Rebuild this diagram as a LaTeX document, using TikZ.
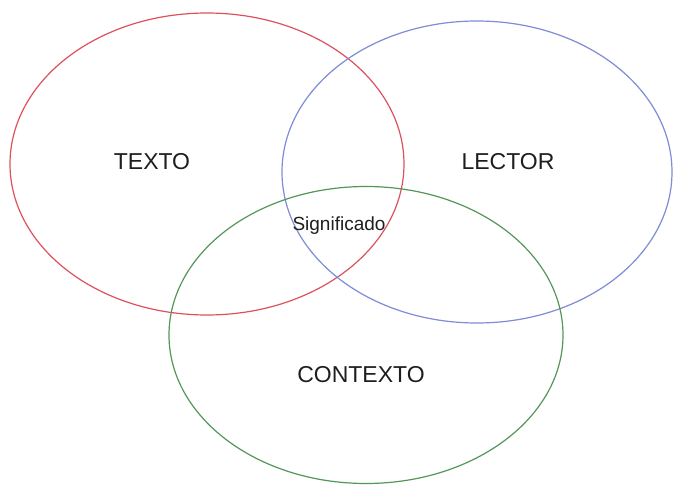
\documentclass[tikz,border=0pt]{standalone}
\usepackage{fontspec}
\setmainfont{Liberation Sans}
\usetikzlibrary{shapes.geometric}
\definecolor{ringred}{RGB}{222,80,96}
\definecolor{ringblue}{RGB}{128,140,214}
\definecolor{ringgreen}{RGB}{84,150,88}
\definecolor{labelgray}{RGB}{30,30,30}
\begin{document}
\begin{tikzpicture}[x=1pt,y=-1pt,
  ring/.style={draw,ellipse,line width=1.2pt,inner sep=0pt},
  biglabel/.style={text=labelgray,font=\fontsize{23}{25}\selectfont},
  smalllabel/.style={text=labelgray,font=\fontsize{19}{21}\selectfont}]
  \useasboundingbox[fill=white] (0,0) rectangle (673,487);
  % the three overlapping sets
  \node[ring,ringred,minimum width=394pt,minimum height=302pt] (texto) at (207,164) {};
  \node[ring,ringblue,minimum width=390pt,minimum height=302pt] (lector) at (477,172) {};
  \node[ring,ringgreen,minimum width=394pt,minimum height=297pt] (contexto) at (366,335) {};
  % labels
  \node[biglabel] (textolbl) at (152,162) {TEXTO};
  \node[biglabel] (lectorlbl) at (508,162) {LECTOR};
  \node[biglabel] (contextolbl) at (361,375) {CONTEXTO};
  \node[smalllabel] (signif) at (339,226) {Significado};
\end{tikzpicture}
\end{document}
